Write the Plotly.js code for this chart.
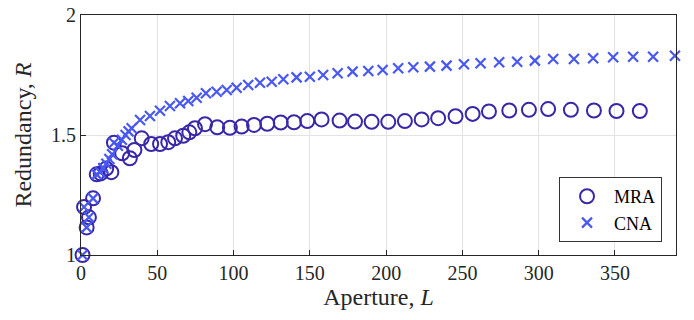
<!DOCTYPE html>
<html>
<head>
<meta charset="utf-8">
<script src="https://cdn.plot.ly/plotly-3.0.1.min.js"></script>
<style>html,body{margin:0;padding:0;background:#fff;}#chart{width:694px;height:320px;}</style>
</head>
<body>
<div id="chart"></div>
<script>
// MRA series (aperture L, redundancy R)
const mraL = [1, 2, 3.7, 5.2, 7.9, 10.3, 12.9, 16.5, 19.9, 21.6, 27, 32, 35, 39.8, 46, 51.8, 57.2, 61.6, 67, 71, 74.7, 81.3, 89.3, 97.6, 105.3, 113.4, 122.1, 130.9, 139.6, 148.3, 157.7, 169.5, 179.6, 190.5, 201.4, 212.3, 223.3, 234.1, 245.5, 256.7, 267.4, 280.7, 293.6, 306.2, 321.1, 336.2, 351, 366.3];
const mraR = [1.0, 1.2, 1.115, 1.157, 1.236, 1.336, 1.34, 1.36, 1.345, 1.468, 1.424, 1.403, 1.4375, 1.486, 1.4625, 1.4625, 1.47, 1.486, 1.497, 1.511, 1.528, 1.545, 1.532, 1.53, 1.535, 1.542, 1.547, 1.552, 1.553, 1.558, 1.565, 1.56, 1.556, 1.555, 1.555, 1.558, 1.565, 1.57, 1.578, 1.588, 1.598, 1.602, 1.605, 1.608, 1.605, 1.602, 1.6, 1.6];

// CNA series
const cnaL = [1, 2, 3.7, 5.2, 7.9, 10.3, 12.6, 14.6, 16.6, 18.6, 20.4, 21.6, 24.2, 26.8, 29.2, 31.2, 33.2, 38.7, 45.2, 51.8, 58.3, 64.9, 70.3, 75.8, 81.9, 88.9, 95.5, 102, 109.6, 117.3, 125, 132.6, 141.3, 150, 158.7, 168.2, 178, 188.3, 197.7, 207.9, 217.8, 228.7, 239.6, 251, 261.9, 274.1, 285.9, 297.5, 309.5, 323.1, 335.7, 348.8, 361.9, 375, 389.3];
const cnaR = [1.0, 1.2, 1.115, 1.157, 1.236, 1.336, 1.345, 1.362, 1.38, 1.40, 1.42, 1.468, 1.455, 1.48, 1.50, 1.515, 1.528, 1.5625, 1.579, 1.601, 1.621, 1.632, 1.642, 1.655, 1.674, 1.68, 1.6875, 1.697, 1.708, 1.718, 1.722, 1.732, 1.74, 1.743, 1.75, 1.757, 1.764, 1.767, 1.771, 1.778, 1.782, 1.785, 1.789, 1.795, 1.799, 1.803, 1.805, 1.81, 1.817, 1.817, 1.82, 1.824, 1.826, 1.826, 1.83];

const xTicks = [0, 50, 100, 150, 200, 250, 300, 350];
const yTicks = [1, 1.5, 2];
const yTickText = ['1', '1.5', '2'];

const serif = 'Liberation Serif, Times New Roman, serif';

const traces = [
  {
    x: mraL, y: mraR, name: 'MRA', type: 'scatter', mode: 'markers', cliponaxis: false,
    marker: {symbol: 'circle-open', size: 14, color: '#3828a8', line: {width: 2, color: '#3828a8'}}
  },
  {
    x: cnaL, y: cnaR, name: 'CNA', type: 'scatter', mode: 'markers', cliponaxis: false,
    marker: {symbol: 'x-thin-open', size: 10, color: '#4858f0', line: {width: 2.2, color: '#4858f0'}}
  }
];

const layout = {
  width: 694, height: 320,
  margin: {l: 81, r: 18, t: 15, b: 65},
  paper_bgcolor: '#fff', plot_bgcolor: '#fff',
  font: {family: serif, color: '#262626', size: 20},
  showlegend: true,
  legend: {
    x: 0.9765, y: 0.054, xanchor: 'right', yanchor: 'bottom',
    bgcolor: '#fff', bordercolor: '#333', borderwidth: 1,
    font: {family: serif, size: 18, color: '#000'},
    tracegroupgap: 0, itemwidth: 44
  },
  xaxis: {
    range: [0, 390], tickvals: xTicks, ticktext: xTicks.map(String),
    showgrid: true, gridcolor: '#e3e3e3', gridwidth: 1,
    zeroline: false, showline: true, linecolor: '#262626', linewidth: 1, mirror: true,
    ticks: 'inside', ticklen: 5, tickcolor: '#262626',
    tickfont: {family: serif, size: 20, color: '#262626'},
    title: {text: 'Aperture, <i>L</i>', font: {family: serif, size: 24, color: '#262626'}, standoff: 4}
  },
  yaxis: {
    range: [1, 2], tickvals: yTicks, ticktext: yTickText,
    showgrid: true, gridcolor: '#e3e3e3', gridwidth: 1,
    zeroline: false, showline: true, linecolor: '#262626', linewidth: 1, mirror: true,
    ticks: 'inside', ticklen: 5, tickcolor: '#262626',
    tickfont: {family: serif, size: 20, color: '#262626'},
    title: {text: 'Redundancy, <i>R</i>', font: {family: serif, size: 24, color: '#262626'}, standoff: 12}
  }
};

Plotly.newPlot('chart', traces, layout, {displayModeBar: false, staticPlot: true});
</script>
</body>
</html>
